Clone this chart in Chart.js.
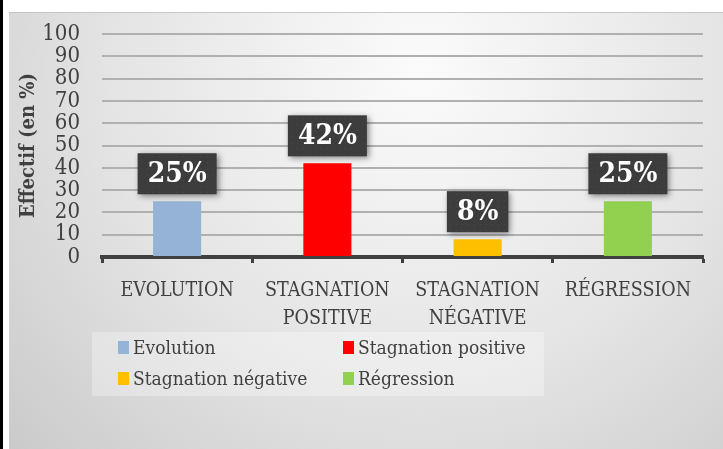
<!DOCTYPE html>
<html>
<head>
<meta charset="utf-8">
<script src="https://cdn.jsdelivr.net/npm/chart.js@4"></script>
<style>
  html, body { margin: 0; padding: 0; background: #fff; }
  #wrap { width: 723px; height: 449px; }
</style>
</head>
<body>
<div id="wrap"><canvas id="effectifChart" width="723" height="449"></canvas></div>
<script>
// categories et valeurs (en %)
const categories = [['EVOLUTION'], ['STAGNATION', 'POSITIVE'], ['STAGNATION', 'NÉGATIVE'], ['RÉGRESSION']];
const legendNames = ['Evolution', 'Stagnation positive', 'Stagnation négative', 'Régression'];
const effectifs = [25, 42, 8, 25];
const barColors = ['#95b3d7', '#ff0000', '#ffc000', '#92d050'];
const yTicks = [0, 10, 20, 30, 40, 50, 60, 70, 80, 90, 100];

const serif = "'DejaVu Serif Condensed', 'Liberation Serif', serif";
const textColor = '#404040';

// fond dégradé + cadre
const backgroundPlugin = {
  id: 'fond',
  beforeDraw(chart) {
    const ctx = chart.ctx;
    ctx.save();
    ctx.fillStyle = '#ffffff';
    ctx.fillRect(0, 0, chart.width, chart.height);
    ctx.fillStyle = '#000000';
    ctx.fillRect(0, 0, 3, chart.height);
    const g = ctx.createRadialGradient(420, 70, 0, 420, 70, 620);
    g.addColorStop(0, '#fbfbfb');
    g.addColorStop(0.5, '#e4e4e4');
    g.addColorStop(1, '#c4c4c4');
    ctx.fillStyle = g;
    ctx.fillRect(9, 12, chart.width - 9, chart.height - 12);
    ctx.fillStyle = 'rgba(190,190,190,0.8)';
    ctx.fillRect(9, 12, chart.width - 9, 1);
    ctx.restore();
  }
};

// étiquettes de données (boîtes sombres)
const labelPlugin = {
  id: 'etiquettes',
  afterDatasetsDraw(chart) {
    const ctx = chart.ctx;
    const meta = chart.getDatasetMeta(0);
    ctx.save();
    ctx.font = "bold 28px " + serif;
    ctx.textAlign = 'center';
    ctx.textBaseline = 'middle';
    meta.data.forEach((bar, i) => {
      const txt = effectifs[i] + '%';
      const w = ctx.measureText(txt).width + 20;
      const h = 41;
      const x = bar.x - w / 2;
      const y = bar.y - 7 - h;
      ctx.save();
      ctx.shadowColor = 'rgba(0,0,0,0.45)';
      ctx.shadowBlur = 6;
      ctx.shadowOffsetX = 2;
      ctx.shadowOffsetY = 2;
      ctx.fillStyle = '#3c3c3c';
      ctx.fillRect(x, y, w, h);
      ctx.restore();
      // petit motif pointillé
      ctx.fillStyle = 'rgba(90,90,90,0.6)';
      for (let px = x + 3; px < x + w; px += 6) {
        for (let py = y + 3; py < y + h; py += 6) {
          ctx.fillRect(px, py, 1, 1);
        }
      }
      ctx.fillStyle = '#ffffff';
      ctx.fillText(txt, bar.x, y + h / 2 + 1);
    });
    ctx.restore();
  }
};

// légende sur deux colonnes
const legendPlugin = {
  id: 'legende',
  afterDraw(chart) {
    const ctx = chart.ctx;
    ctx.save();
    ctx.fillStyle = 'rgba(255,255,255,0.3)';
    ctx.fillRect(92, 332, 452, 64);
    ctx.font = "19px " + serif;
    ctx.textBaseline = 'middle';
    const cols = [118, 343];
    const rows = [348, 379];
    legendNames.forEach((name, i) => {
      const cx = cols[i % 2];
      const cy = rows[Math.floor(i / 2)];
      ctx.fillStyle = barColors[i];
      ctx.fillRect(cx, cy - 7, 11, 13);
      ctx.fillStyle = textColor;
      ctx.fillText(name, cx + 15, cy + 1);
    });
    ctx.restore();
  }
};

new Chart(document.getElementById('effectifChart'), {
  type: 'bar',
  data: {
    labels: categories,
    datasets: [{
      label: 'Effectif',
      data: effectifs,
      backgroundColor: barColors,
      categoryPercentage: 1,
      barPercentage: 0.32
    }]
  },
  options: {
    responsive: false,
    animation: false,
    devicePixelRatio: 1,
    layout: { padding: { top: 34, right: 20, left: 0, bottom: 112 } },
    plugins: {
      legend: { display: false },
      tooltip: { enabled: false }
    },
    scales: {
      x: {
        grid: {
          offset: true,
          drawOnChartArea: false,
          drawTicks: true,
          tickLength: 6,
          tickWidth: 3,
          color: textColor
        },
        border: { display: true, color: textColor, width: 4 },
        ticks: {
          color: textColor,
          font: { family: serif, size: 19.5, lineHeight: 1.42 },
          maxRotation: 0,
          autoSkip: false,
          padding: 14
        },
        afterFit(scale) { scale.height = 80; }
      },
      y: {
        min: 0,
        max: 100,
        afterBuildTicks(scale) { scale.ticks = yTicks.map(v => ({ value: v })); },
        grid: { color: '#b0b0b0', lineWidth: 2, drawTicks: false },
        border: { display: false },
        ticks: {
          color: textColor,
          autoSkip: false,
          font: { family: serif, size: 22, lineHeight: 1 },
          padding: 22
        },
        title: {
          display: true,
          text: 'Effectif (en %)',
          color: textColor,
          font: { family: serif, size: 20, weight: 'bold' },
          padding: { top: 17, bottom: 0 }
        },
        afterFit(scale) { scale.width = 102; }
      }
    }
  },
  plugins: [backgroundPlugin, labelPlugin, legendPlugin]
});
</script>
</body>
</html>
